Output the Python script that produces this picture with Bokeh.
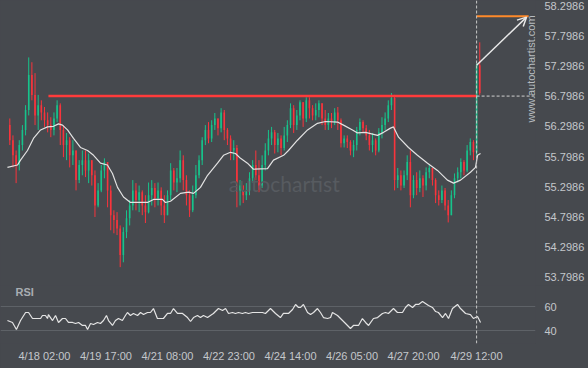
from math import pi
from bokeh.plotting import figure
from bokeh.models import (ColumnDataSource, Range1d, FixedTicker, Span, Arrow, OpenHead,
                          Label, PrintfTickFormatter, GlobalInlineStyleSheet)
from bokeh.layouts import column
from bokeh.embed import file_html
from bokeh.resources import INLINE

# ---------------- data ----------------
first_open = 56.32
close = [56.07, 55.82, 55.66, 55.99, 56.24, 56.57, 57.15, 56.82, 56.48, 56.65,
         56.53, 56.40, 56.32, 56.24, 56.43, 56.65, 56.24, 55.99, 56.07, 55.82,
         55.90, 55.41, 55.66, 55.74, 55.57, 55.74, 55.49, 54.99, 55.24, 55.57,
         55.71, 55.24, 54.83, 54.75, 54.61, 54.17, 54.55, 54.78, 54.99, 55.24,
         55.08, 55.21, 54.99, 54.88, 55.16, 55.28, 55.11, 55.24, 54.99, 54.83,
         55.16, 55.57, 55.37, 55.44, 55.74, 55.41, 55.16, 54.91, 55.16, 55.49,
         55.74, 56.07, 56.24, 56.10, 56.32, 56.43, 56.27, 56.53, 56.24, 56.10,
         55.90, 55.94, 55.24, 55.32, 55.16, 55.24, 55.44, 55.66, 55.49, 55.32,
         55.66, 55.90, 56.10, 56.20, 55.99, 56.10, 55.94, 56.15, 56.32, 56.60,
         56.32, 56.48, 56.70, 56.43, 56.73, 56.60, 56.48, 56.57, 56.68, 56.43,
         56.32, 56.43, 56.37, 56.53, 56.40, 56.02, 56.10, 56.04, 55.90, 55.99,
         56.24, 56.37, 56.27, 56.15, 55.99, 56.07, 55.90, 56.20, 56.32, 56.43,
         56.65, 56.77, 55.41, 55.49, 55.32, 55.49, 55.71, 55.16, 55.41, 55.28,
         55.44, 55.32, 55.54, 55.61, 55.41, 55.16, 55.08, 55.24, 54.99, 54.83,
         55.16, 55.44, 55.54, 55.71, 55.57, 55.90, 56.04, 55.87, 57.31, 56.85]
high = [56.43, 56.15, 55.90, 56.07, 56.32, 56.65, 57.44, 57.36, 57.18, 56.82,
        56.73, 56.62, 56.53, 56.45, 56.53, 56.73, 56.68, 56.32, 56.19, 56.12,
        56.07, 55.90, 55.74, 55.90, 55.90, 55.85, 55.74, 55.57, 55.36, 55.66,
        55.77, 55.69, 55.32, 54.91, 54.88, 54.66, 54.63, 54.91, 55.08, 55.41,
        55.36, 55.32, 55.24, 55.16, 55.37, 55.41, 55.36, 55.37, 55.29, 55.16,
        55.24, 55.69, 55.61, 55.61, 55.90, 55.82, 55.49, 55.24, 55.32, 55.66,
        55.82, 56.12, 56.32, 56.37, 56.40, 56.52, 56.43, 56.60, 56.57, 56.27,
        56.15, 56.07, 55.99, 55.41, 55.32, 55.36, 55.54, 55.74, 55.90, 55.74,
        55.82, 56.02, 56.24, 56.29, 56.24, 56.19, 56.15, 56.29, 56.40, 56.68,
        56.65, 56.57, 56.73, 56.70, 56.78, 56.78, 56.65, 56.68, 56.73, 56.68,
        56.57, 56.52, 56.52, 56.60, 56.62, 56.43, 56.15, 56.15, 56.07, 56.07,
        56.29, 56.43, 56.40, 56.32, 56.24, 56.19, 56.10, 56.27, 56.45, 56.53,
        56.73, 56.85, 56.82, 55.61, 55.57, 55.57, 55.82, 55.90, 55.49, 55.54,
        55.57, 55.49, 55.62, 55.66, 55.61, 55.44, 55.24, 55.32, 55.28, 55.08,
        55.24, 55.52, 55.62, 55.77, 55.74, 55.99, 56.10, 56.07, 57.34, 57.69]
low = [55.99, 55.62, 55.36, 55.57, 55.90, 56.15, 56.48, 56.73, 56.32, 56.24,
       56.40, 56.29, 56.20, 56.12, 56.15, 56.37, 55.99, 55.79, 55.74, 55.62,
       55.66, 55.24, 55.36, 55.49, 55.46, 55.36, 55.32, 54.80, 54.96, 55.21,
       55.44, 54.96, 54.58, 54.53, 54.50, 53.97, 54.05, 54.45, 54.66, 54.91,
       54.91, 54.88, 54.83, 54.70, 54.86, 54.99, 54.96, 54.99, 54.83, 54.70,
       54.83, 55.08, 55.24, 55.21, 55.37, 55.24, 54.99, 54.80, 54.88, 55.11,
       55.44, 55.66, 55.99, 56.02, 56.04, 56.24, 56.15, 56.20, 56.07, 55.99,
       55.74, 55.74, 54.96, 54.99, 55.03, 55.08, 55.16, 55.37, 55.41, 55.21,
       55.28, 55.57, 55.82, 55.99, 55.85, 55.87, 55.82, 55.90, 56.04, 56.27,
       56.19, 56.24, 56.40, 56.29, 56.37, 56.43, 56.40, 56.40, 56.45, 56.32,
       56.24, 56.24, 56.27, 56.32, 56.24, 55.95, 55.95, 55.94, 55.82, 55.79,
       55.90, 56.15, 56.19, 56.07, 55.90, 55.87, 55.82, 55.87, 56.10, 56.24,
       56.37, 56.57, 55.24, 55.28, 55.24, 55.28, 55.41, 54.96, 55.11, 55.16,
       55.21, 55.13, 55.24, 55.44, 55.32, 55.03, 54.99, 55.03, 54.91, 54.71,
       54.83, 55.11, 55.37, 55.44, 55.49, 55.54, 55.82, 55.74, 55.82, 56.82]

# moving average: (hour, price)
ma_points = [(-23.5, 55.62), (-17.1, 55.66), (-15.2, 55.74), (-10.8, 55.90), (-7.0, 56.10),
             (-2.5, 56.24), (1.9, 56.29), (5.7, 56.30), (8.9, 56.34), (11.4, 56.32),
             (14.6, 56.24), (18.4, 56.10), (22.8, 55.95), (27.3, 55.90), (31.1, 55.82),
             (35.5, 55.69), (39.9, 55.66), (43.1, 55.52), (46.3, 55.29), (50.1, 55.13),
             (54.5, 55.04), (65.3, 55.04), (69.1, 55.09), (74.8, 55.09), (76.7, 55.04),
             (79.9, 55.06), (86.2, 55.19), (91.3, 55.21), (94.5, 55.19), (98.9, 55.29),
             (103.4, 55.49), (109.7, 55.69), (113.5, 55.82), (117.9, 55.87), (121.1, 55.85),
             (124.3, 55.77), (128.7, 55.69), (132.5, 55.59), (141.4, 55.60), (145.2, 55.74),
             (151.6, 55.82), (154.7, 55.90), (160.4, 56.07), (166.8, 56.24), (173.1, 56.35),
             (178.2, 56.38), (185.8, 56.37), (189.6, 56.32), (195.3, 56.24), (198.5, 56.19),
             (203.6, 56.20), (211.2, 56.15), (215.0, 56.20), (219.4, 56.27), (221.3, 56.29),
             (224.5, 56.12), (230.8, 55.95), (236.5, 55.82), (242.9, 55.69), (249.2, 55.57),
             (255.5, 55.41), (259.4, 55.36), (263.8, 55.41), (270.1, 55.54), (273.3, 55.62),
             (274.6, 55.82), (276.5, 55.85)]

# RSI: (hour, value)
rsi_points = [(-23.5, 48.3), (-20.3, 46.7), (-17.8, 40.8), (-15.2, 48.3), (-12.0, 55.0),
              (-10.1, 55.0), (-7.6, 50.0), (-2.5, 50.0), (-1.3, 52.5), (0.6, 52.5),
              (1.9, 50.0), (2.5, 53.3), (5.1, 48.3), (7.0, 52.5), (8.9, 46.7),
              (11.4, 50.0), (13.3, 50.0), (15.2, 46.7), (17.8, 46.7), (19.7, 45.8),
              (21.6, 46.7), (24.1, 44.2), (26.0, 44.2), (27.3, 40.8), (29.2, 45.8),
              (31.1, 45.0), (33.6, 46.7), (35.5, 45.8), (37.4, 48.3), (39.3, 52.5),
              (40.6, 48.3), (43.1, 44.2), (45.0, 48.3), (46.9, 50.0), (49.4, 48.3),
              (51.3, 52.5), (52.6, 55.0), (54.5, 52.5), (56.4, 54.2), (59.0, 52.5),
              (60.9, 55.0), (62.8, 53.3), (65.3, 55.0), (67.2, 55.0), (69.1, 58.3),
              (71.6, 50.0), (75.4, 50.0), (78.0, 54.2), (79.9, 54.2), (81.8, 58.3),
              (84.3, 54.2), (87.5, 54.2), (90.7, 50.8), (92.6, 47.5), (94.5, 50.8),
              (97.0, 52.5), (98.9, 50.8), (100.8, 52.5), (103.4, 50.8), (105.2, 52.5),
              (107.1, 54.2), (110.3, 58.3), (112.9, 56.7), (114.8, 58.3), (116.7, 54.2),
              (119.2, 55.0), (121.1, 54.2), (123.0, 55.0), (125.5, 54.2), (127.4, 55.0),
              (129.4, 54.2), (131.9, 55.0), (135.1, 55.0), (138.2, 55.0), (140.1, 54.2),
              (143.3, 58.3), (146.5, 54.2), (149.6, 50.8), (151.5, 54.2), (154.7, 54.2),
              (157.3, 57.5), (159.2, 61.7), (161.1, 59.2), (162.4, 59.2), (164.2, 61.7),
              (166.8, 55.0), (168.7, 53.3), (170.6, 55.0), (173.1, 58.3), (175.0, 55.0),
              (176.9, 50.8), (179.5, 50.0), (181.4, 50.8), (182.6, 55.0), (185.8, 52.5),
              (187.7, 50.0), (190.9, 45.8), (194.0, 41.7), (195.9, 44.2), (199.1, 44.2),
              (201.6, 50.0), (203.6, 46.7), (205.5, 44.2), (208.6, 50.0), (211.2, 50.8),
              (214.3, 54.2), (216.2, 55.0), (218.1, 54.2), (221.3, 58.3), (223.8, 55.0),
              (227.0, 55.0), (228.9, 59.2), (230.8, 61.7), (233.4, 59.2), (235.3, 61.7),
              (237.2, 61.7), (239.7, 64.2), (241.6, 62.5), (243.5, 60.8), (246.0, 59.2),
              (248.0, 55.8), (249.8, 55.0), (252.4, 50.8), (254.3, 54.2), (256.2, 50.0),
              (258.7, 58.3), (261.9, 61.7), (263.8, 58.3), (267.0, 54.2), (270.1, 53.3),
              (272.0, 50.0), (274.6, 51.7), (276.5, 46.7)]

price_ticks = [53.7986, 54.2986, 54.7986, 55.2986, 55.7986, 56.2986, 56.7986, 57.2986, 57.7986, 58.2986]
rsi_ticks = [40, 60]
time_ticks = [0, 39, 78, 117, 156, 195, 234, 274]
time_labels = ["4/18 02:00", "4/19 17:00", "4/21 08:00", "4/22 23:00",
               "4/24 14:00", "4/26 05:00", "4/27 20:00", "4/29 12:00"]

resistance_level = 56.80
resistance_start = 2.5
breakout_hour = 274
target_level = 58.12
target_end = 307
arrow_start = (274, 57.31)
arrow_end = (305.7, 58.107)

# ---------------- derived ----------------
n = len(close)
hours = [-22 + 2 * i for i in range(n)]
opens = [first_open] + close[:-1]
up = [c >= o for o, c in zip(opens, close)]
GREEN, RED = "#17c38b", "#f9343c"
colors = [GREEN if u else RED for u in up]
src = ColumnDataSource(dict(x=hours, o=opens, c=close, h=high, l=low,
                            top=[max(a, b) for a, b in zip(opens, close)],
                            bot=[min(a, b) for a, b in zip(opens, close)], col=colors))

BG = "#46494e"
LBL = "#c4c7cb"
FONT = "Liberation Sans"

xr = Range1d(-27.9, 311.35)

p1 = figure(width=588, height=285, x_range=xr, y_range=Range1d(53.6662, 58.3816),
            y_axis_location="right", output_backend="svg", toolbar_location=None,
            min_border_left=0, min_border_right=53, min_border_top=0, min_border_bottom=0,
            background_fill_color=BG, border_fill_color=BG, outline_line_color=None)
p1.xaxis.visible = False
p1.grid.visible = False
ya = p1.yaxis[0]
ya.ticker = FixedTicker(ticks=price_ticks)
ya.formatter = PrintfTickFormatter(format="%.4f")
ya.axis_line_color = None
ya.major_tick_line_color = None
ya.minor_tick_line_color = None
ya.major_label_standoff = 3
ya.major_label_text_color = LBL
ya.major_label_text_font = FONT
ya.major_label_text_font_size = "11px"

# watermark
p1.add_layout(Label(x=152, y=55.36, text="autochartist", text_align="center",
                    text_baseline="middle", text_font="Lato", text_font_size="21px",
                    text_color="#575b60"))

# candles
p1.segment(x0="x", y0="h", x1="x", y1="l", color="col", line_width=1, source=src)
p1.vbar(x="x", width=1.0, top="top", bottom="bot", fill_color="col", line_color=None, source=src)

# moving average
p1.line([a for a, _ in ma_points], [b for _, b in ma_points], line_color="#e2e2e2", line_width=1.2)

# resistance line & projection
p1.line([resistance_start, breakout_hour], [resistance_level, resistance_level],
        line_color="#ff3b3b", line_width=2.5)
p1.line([breakout_hour, xr.end], [resistance_level, resistance_level],
        line_color="#d0d0d0", line_width=1, line_dash="3 2")
p1.line([breakout_hour, target_end], [target_level, target_level],
        line_color="#ff8a2a", line_width=2)
p1.add_layout(Arrow(end=OpenHead(size=9, line_color="#e8e8e8", line_width=1.5),
                    x_start=arrow_start[0], y_start=arrow_start[1],
                    x_end=arrow_end[0], y_end=arrow_end[1],
                    line_color="#e8e8e8", line_width=1.5))
p1.add_layout(Span(location=breakout_hour, dimension="height", line_color="#c8c8c8",
                   line_dash="3 2", line_width=1))
p1.add_layout(Label(x=308.8, y=57.25, text="www.autochartist.com", angle=pi / 2,
                    text_align="center", text_baseline="middle", text_font=FONT,
                    text_font_size="11px", text_color="#b7bbbf"))

# RSI panel
p2 = figure(width=588, height=83, x_range=xr, y_range=Range1d(29.17, 77.5),
            y_axis_location="right", output_backend="svg", toolbar_location=None,
            min_border_left=0, min_border_right=53, min_border_top=0, min_border_bottom=25,
            background_fill_color=BG, border_fill_color=BG, outline_line_color=None)
p2.line([a for a, _ in rsi_points], [b for _, b in rsi_points], line_color="#e4e4e4", line_width=1.2)
p2.xgrid.visible = False
p2.ygrid.grid_line_color = "#5e6267"
p2.ygrid.grid_line_width = 1
ry = p2.yaxis[0]
ry.ticker = FixedTicker(ticks=rsi_ticks)
ry.axis_line_color = None
ry.major_tick_line_color = None
ry.minor_tick_line_color = None
ry.major_label_standoff = 3
ry.major_label_text_color = LBL
ry.major_label_text_font = FONT
ry.major_label_text_font_size = "11px"
rx = p2.xaxis[0]
rx.ticker = FixedTicker(ticks=time_ticks)
rx.major_label_overrides = {t: s for t, s in zip(time_ticks, time_labels)}
rx.axis_line_color = None
rx.major_tick_line_color = None
rx.minor_tick_line_color = None
rx.major_tick_out = 0
rx.major_label_standoff = 6
rx.major_label_text_color = LBL
rx.major_label_text_font = FONT
rx.major_label_text_font_size = "11px"
p2.add_layout(Span(location=breakout_hour, dimension="height", line_color="#c8c8c8",
                   line_dash="3 2", line_width=1))
p2.add_layout(Label(x=-18.4, y=72.5, text="RSI", text_baseline="middle", text_font=FONT,
                    text_font_style="bold", text_font_size="11px", text_color="#a9adb2"))

p = column(p1, p2, spacing=0,
           stylesheets=[GlobalInlineStyleSheet(css="html, body { margin: 0; background-color: #46494e; }")])

open("out.html", "w").write(file_html(p, INLINE))
